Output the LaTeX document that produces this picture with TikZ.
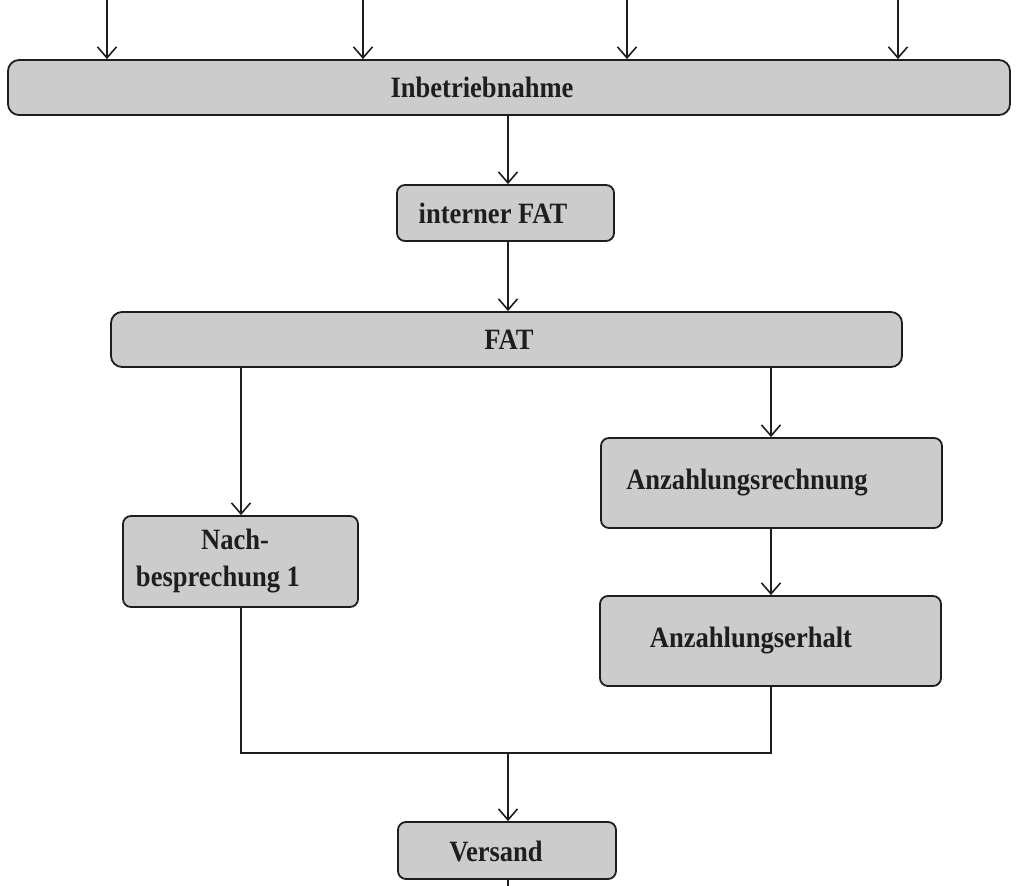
\documentclass[tikz,border=0pt]{standalone}
\usepackage{fontspec}
\setmainfont{Liberation Serif}[FakeStretch=0.9]
\usetikzlibrary{arrows.meta}
\definecolor{boxfill}{HTML}{CCCCCC}
\definecolor{ink}{HTML}{1E1E1E}
\begin{document}
\begin{tikzpicture}[x=1pt,y=-1pt,
  box/.style={draw=ink, fill=boxfill, line width=1.8pt, rounded corners=8pt, inner sep=0pt},
  txt/.style={text=ink, font=\fontsize{29.5}{37}\selectfont\bfseries, inner sep=0pt},
  arr/.style={draw=ink, line width=1.6pt, -{Straight Barb[length=11pt,width=19pt,line width=1.6pt]}},
  ln/.style={draw=ink, line width=1.6pt}]
\useasboundingbox (0,0) rectangle (1024,885);
% columns
\coordinate (cx) at (508,0);
\coordinate (cl) at (241,0);
\coordinate (cr) at (771,0);
\coordinate (t1) at (107,0);
\coordinate (t2) at (363,0);
\coordinate (t3) at (627,0);
\coordinate (t4) at (898,0);
% boxes
\node[box, rounded corners=11pt, minimum width=1002pt, minimum height=55pt,
  label={[txt,xshift=-27pt,yshift=0pt]center:Inbetriebnahme}] (inb) at (509,87.5) {};
\node[box, minimum width=217pt, minimum height=56pt,
  label={[txt,xshift=-12.5pt,yshift=0pt]center:interner FAT}] (ifat) at (505.5,213) {};
\node[box, rounded corners=11pt, minimum width=791pt, minimum height=55pt,
  label={[txt,xshift=2.5pt,yshift=0pt]center:FAT}] (fat) at (506.5,339.5) {};
\node[box, minimum width=341pt, minimum height=90pt,
  label={[txt,xshift=-24.5pt,yshift=0pt]center:Anzahlungsrechnung}] (anzr) at (771.5,483) {};
\node[box, minimum width=341pt, minimum height=90pt,
  label={[txt,xshift=-19.5pt,yshift=0pt]center:Anzahlungserhalt}] (anze) at (770.5,641) {};
\node[box, minimum width=235pt, minimum height=91pt,
  label={[txt,align=center,xshift=-22.5pt,yshift=0pt]center:\hspace*{34pt}Nach-\\besprechung 1}] (nach) at (240.5,561.5) {};
\node[box, minimum width=218pt, minimum height=57pt,
  label={[txt,xshift=-11pt,yshift=-1pt]center:Versand}] (vers) at (507,850.5) {};
\coordinate (j) at (508,753);
\coordinate (bot) at (508,886);
% connectors
\draw[arr] (t1) -- (t1 |- inb.north);
\draw[arr] (t2) -- (t2 |- inb.north);
\draw[arr] (t3) -- (t3 |- inb.north);
\draw[arr] (t4) -- (t4 |- inb.north);
\draw[arr] (inb.south -| cx) -- (ifat.north -| cx);
\draw[arr] (ifat.south -| cx) -- (fat.north -| cx);
\draw[arr] (fat.south -| cl) -- (nach.north -| cl);
\draw[arr] (fat.south -| cr) -- (anzr.north -| cr);
\draw[arr] (anzr.south -| cr) -- (anze.north -| cr);
\draw[ln] (nach.south -| cl) |- (j) -| (anze.south -| cr);
\draw[arr] (j) -- (vers.north -| j);
\draw[ln] (vers.south -| j) -- (bot);
\end{tikzpicture}
\end{document}
